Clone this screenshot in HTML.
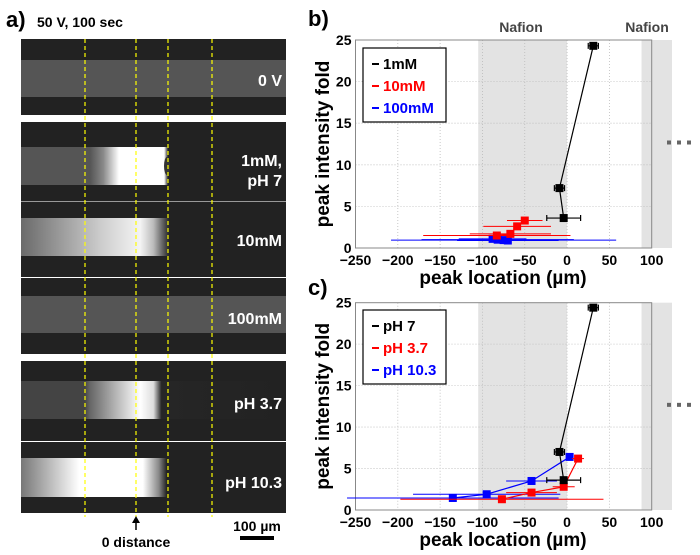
<!DOCTYPE html>
<html><head><meta charset="utf-8"><style>
html,body{margin:0;padding:0;background:#fff}
svg{display:block;font-family:"Liberation Sans",Arial,sans-serif;font-weight:bold}
</style></head><body>
<svg id="fig" width="700" height="555" viewBox="0 0 700 555" xmlns="http://www.w3.org/2000/svg">
<defs>
<linearGradient id="g2" x1="21" x2="286" gradientUnits="userSpaceOnUse">
<stop offset="0" stop-color="#555"/><stop offset="0.26" stop-color="#555"/><stop offset="0.31" stop-color="#888"/><stop offset="0.37" stop-color="#fff"/><stop offset="0.54" stop-color="#fff"/><stop offset="0.555" stop-color="#222"/><stop offset="1" stop-color="#222"/></linearGradient>
<linearGradient id="g3" x1="21" x2="286" gradientUnits="userSpaceOnUse">
<stop offset="0" stop-color="#6a6a6a"/><stop offset="0.3" stop-color="#ccc"/><stop offset="0.45" stop-color="#f4f4f4"/><stop offset="0.5" stop-color="#bbb"/><stop offset="0.54" stop-color="#555"/><stop offset="0.56" stop-color="#222"/><stop offset="1" stop-color="#222"/></linearGradient>
<linearGradient id="g5" x1="21" x2="286" gradientUnits="userSpaceOnUse">
<stop offset="0" stop-color="#444"/><stop offset="0.24" stop-color="#444"/><stop offset="0.26" stop-color="#666"/><stop offset="0.45" stop-color="#fff"/><stop offset="0.5" stop-color="#ddd"/><stop offset="0.53" stop-color="#262626"/><stop offset="1" stop-color="#222"/></linearGradient>
<linearGradient id="g6" x1="21" x2="286" gradientUnits="userSpaceOnUse">
<stop offset="0" stop-color="#777"/><stop offset="0.22" stop-color="#fff"/><stop offset="0.46" stop-color="#fff"/><stop offset="0.52" stop-color="#888"/><stop offset="0.55" stop-color="#222"/><stop offset="1" stop-color="#222"/></linearGradient>
</defs>

<text x="6" y="27" font-size="22">a)</text>
<text x="37" y="27" font-size="14">50 V, 100 sec</text>
<g>
<rect x="21" y="39" width="265" height="76" fill="#222"/><rect x="21" y="60" width="265" height="37" fill="#555"/></g>
<g>
<rect x="21" y="122" width="265" height="79" fill="#222"/><rect x="21" y="147" width="265" height="38" fill="url(#g2)"/>
<ellipse cx="167" cy="166" rx="3" ry="9" fill="#333"/></g>
<rect x="21" y="201" width="265" height="1" fill="#999"/>
<g>
<rect x="21" y="202" width="265" height="75" fill="#222"/><rect x="21" y="218" width="265" height="38" fill="url(#g3)"/></g>
<rect x="21" y="277" width="265" height="1" fill="#fff"/>
<g>
<rect x="21" y="278" width="265" height="76" fill="#222"/><rect x="21" y="296" width="265" height="37" fill="#555"/></g>
<g>
<rect x="21" y="361" width="265" height="80" fill="#222"/><rect x="21" y="381" width="265" height="38" fill="url(#g5)"/></g>
<rect x="21" y="441" width="265" height="1" fill="#fff"/>
<g>
<rect x="21" y="442" width="265" height="71" fill="#222"/><rect x="21" y="458" width="265" height="39" fill="url(#g6)"/></g>
<g stroke="#ff0" stroke-width="1.2" stroke-dasharray="4,3">
<line x1="85" y1="39" x2="85" y2="517"/><line x1="136" y1="39" x2="136" y2="517"/>
<line x1="168" y1="39" x2="168" y2="517"/><line x1="212" y1="39" x2="212" y2="517"/></g>
<g fill="#fff" font-size="16" text-anchor="end">
<text x="282" y="86">0 V</text><text x="282" y="166">1mM,</text><text x="282" y="186">pH 7</text>
<text x="282" y="246">10mM</text><text x="282" y="324">100mM</text><text x="282" y="409">pH 3.7</text><text x="282" y="488">pH 10.3</text></g>
<g>
<line x1="136" y1="519" x2="136" y2="530" stroke="#000" stroke-width="1.5"/><polygon points="136,516 132,523 140,523" fill="#000"/></g>
<text x="136" y="547" font-size="14" text-anchor="middle">0 distance</text>
<text x="257" y="531" font-size="14" text-anchor="middle">100 µm</text>
<rect x="240" y="536" width="34" height="4" fill="#000"/>

<text x="308" y="26" font-size="22">b)</text>
<text x="308" y="295" font-size="22">c)</text>
<g id="chartB"></g>
<g id="chartC"></g>
</svg>
<script>
const bSeriesNames = ["1mM", "10mM", "100mM"];
const bColors = ["#000", "#f00", "#00f"];
const b1mM_x = [31, -9, -4];
const b1mM_y = [24.3, 7.2, 3.6];
const b1mM_err = [6, 6, 20];
const b10mM_x = [-50, -59, -67, -83];
const b10mM_y = [3.3, 2.6, 1.7, 1.5];
const b10mM_err = [21, 40, 48, 87];
const b100mM_x = [-88, -82, -75, -70];
const b100mM_y = [1.1, 1.0, 0.95, 0.9];
const b100mM_err = [40, 90, 133, 60];
const cSeriesNames = ["pH 7", "pH 3.7", "pH 10.3"];
const cPH7_x = [31, -9, -4];
const cPH7_y = [24.4, 7.0, 3.6];
const cPH7_err = [6, 6, 20];
const cPH37_x = [13, -4, -42, -77];
const cPH37_y = [6.2, 2.8, 2.1, 1.3];
const cPH37_err = [7, 13, 30, 120];
const cPH103_x = [3, -42, -95, -135];
const cPH103_y = [6.4, 3.5, 1.9, 1.45];
const cPH103_err = [3, 30, 87, 125];
const xTicks = [-250, -200, -150, -100, -50, 0, 50, 100];
const yTicks = [0, 5, 10, 15, 20, 25];

const NS = "http://www.w3.org/2000/svg";
function mk(parent, tag, attrs, text) {
  const e = document.createElementNS(NS, tag);
  for (const k in attrs) e.setAttribute(k, attrs[k]);
  if (text !== undefined) e.textContent = text;
  parent.appendChild(e);
  return e;
}
function drawChart(g, top, bottom, names, xs, ys, errs, legendY, legendH, prefix) {
  const L = 355.5, R = 651.7;
  const sx = v => L + (v + 250) / 350 * (R - L);
  const sy = v => bottom - v / 25 * (bottom - top);
  let e;
  e = mk(g, "rect", {x: sx(-105), y: top, width: sx(0) - sx(-105), height: bottom - top, fill: "#e3e3e3"});
  
  
  e = mk(g, "rect", {x: sx(88), y: top, width: 672 - sx(88), height: bottom - top, fill: "#e3e3e3"});
  
  
  xTicks.forEach(t => {
    if (t > -250 && t < 100) {
      e = mk(g, "line", {x1: sx(t), x2: sx(t), y1: top, y2: bottom, stroke: "#bbb", "stroke-width": 0.8, "stroke-dasharray": "1,2"});
      
      
    }
  });
  yTicks.forEach(t => {
    if (t > 0 && t < 25) {
      e = mk(g, "line", {x1: L, x2: R, y1: sy(t), y2: sy(t), stroke: "#bbb", "stroke-width": 0.8, "stroke-dasharray": "1,2"});
      
      
    }
  });
  e = mk(g, "rect", {x: L, y: top, width: R - L, height: bottom - top, fill: "none", stroke: "#888", "stroke-width": 1});
  
  
  xTicks.forEach(t => {
    e = mk(g, "text", {x: sx(t), y: bottom + 17, "font-size": 14, "text-anchor": "middle"}, t < 0 ? "\u2212" + (-t) : String(t));
    
    
  });
  yTicks.forEach(t => {
    e = mk(g, "text", {x: L - 4, y: sy(t) + 5, "font-size": 14, "text-anchor": "end"}, String(t));
    
    
  });
  e = mk(g, "text", {x: 503, y: bottom + 36, "font-size": 19, "text-anchor": "middle"}, "peak location (\u00b5m)");
  
  
  const cy = (top + bottom) / 2;
  e = mk(g, "text", {x: 329, y: cy, "font-size": 19, "text-anchor": "middle", transform: "rotate(-90 329 " + cy + ")"}, "peak intensity fold");
  
  
  if (prefix === "chart-b") {
    e = mk(g, "text", {x: 521, y: 32, "font-size": 14, "text-anchor": "middle", fill: "#444"}, "Nafion");
    
    
    e = mk(g, "text", {x: 647, y: 32, "font-size": 14, "text-anchor": "middle", fill: "#444"}, "Nafion");
    
    
  }
  [0, 1, 2].forEach(i => {
    e = mk(g, "rect", {x: 667 + i * 10, y: cy - 3.5, width: 4, height: 4, fill: "#666"});
    
    
  });
  for (let s = names.length - 1; s >= 0; s--) {
    const col = bColors[s];
    const sg = mk(g, "g", {});
    
    
    const X = xs[s], Y = ys[s], E = errs[s];
    const pts = X.map((x, i) => sx(x) + "," + sy(Y[i])).join(" ");
    e = mk(sg, "polyline", {points: pts, fill: "none", stroke: col, "stroke-width": 1.2});
    
    
    X.forEach((x, i) => {
      const y = sy(Y[i]), x1 = sx(x - E[i]), x2 = sx(x + E[i]);
      const d = s === 0 ? `M${x1},${y}H${x2}M${x1},${y - 3}V${y + 3}M${x2},${y - 3}V${y + 3}` : `M${x1},${y}H${x2}`;
      e = mk(sg, "path", {d: d, stroke: col, "stroke-width": s === 0 ? 1.2 : 1, fill: "none"});
      
      
      e = mk(sg, "rect", {x: sx(x) - 4, y: y - 4, width: 8, height: 8, fill: col});
      
      
    });
  }
  const lg = mk(g, "g", {});
  
  
  mk(lg, "rect", {x: 363, y: legendY, width: 83, height: legendH, fill: "#fff", stroke: "#000", "stroke-width": 1.2});
  names.forEach((n, i) => {
    const ly = legendY + 21 + i * 22;
    e = mk(lg, "line", {x1: 372, x2: 379, y1: ly - 5, y2: ly - 5, stroke: bColors[i], "stroke-width": 2});
    
    
    e = mk(lg, "text", {x: 383, y: ly, "font-size": 15, fill: bColors[i]}, n);
    
    
  });
}
drawChart(document.getElementById("chartB"), 40, 248, bSeriesNames,
  [b1mM_x, b10mM_x, b100mM_x], [b1mM_y, b10mM_y, b100mM_y], [b1mM_err, b10mM_err, b100mM_err], 48, 74, "chart-b");
drawChart(document.getElementById("chartC"), 302.7, 510, cSeriesNames,
  [cPH7_x, cPH37_x, cPH103_x], [cPH7_y, cPH37_y, cPH103_y], [cPH7_err, cPH37_err, cPH103_err], 310, 74, "chart-c");
</script>
</body></html>
